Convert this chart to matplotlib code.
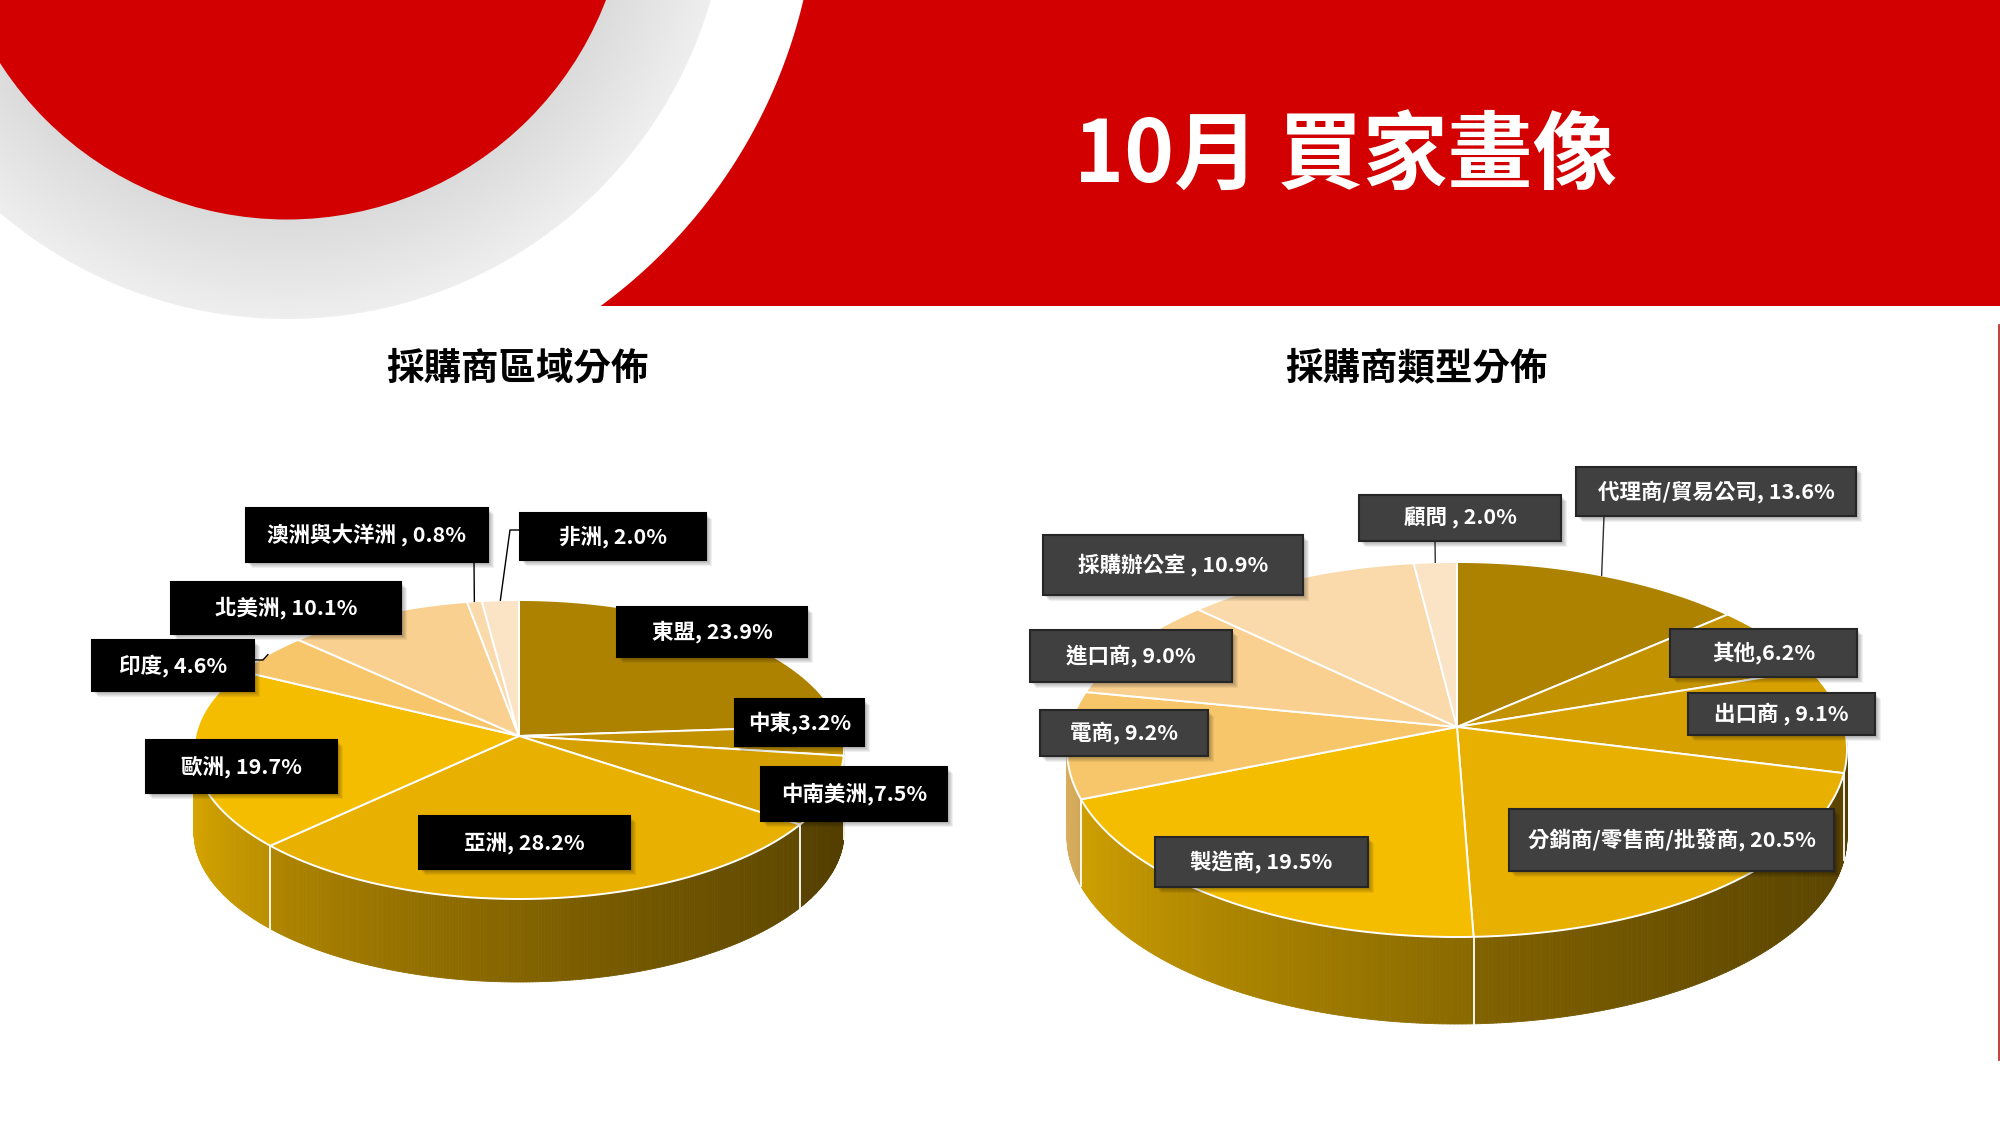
import numpy as np
import matplotlib
matplotlib.use('Agg')
import matplotlib.pyplot as plt
from matplotlib.patches import Polygon, Circle, Rectangle
from matplotlib.collections import PolyCollection
from matplotlib.colors import to_rgb

plt.rcParams['font.family'] = ['Noto Sans CJK TC', 'DejaVu Sans']

# ---- data ----
region_names = ['東盟', '中東', '中南美洲', '亞洲', '歐洲', '印度', '北美洲', '澳洲與大洋洲', '非洲']
region_share = [23.9, 3.2, 7.5, 28.2, 19.7, 4.6, 10.1, 0.8, 2.0]
region_sep = [', ', ',', ',', ', ', ', ', ', ', ', ', ' , ', ', ']

type_names = ['代理商/貿易公司', '其他', '出口商', '分銷商/零售商/批發商', '製造商',
              '電商', '進口商', '採購辦公室', '顧問']
type_share = [13.6, 6.2, 9.1, 20.5, 19.5, 9.2, 9.0, 10.9, 2.0]
type_sep = [', ', ',', ' , ', ', ', ', ', ', ', ', ', ' , ', ' , ']

title = '10月 買家畫像'
left_title = '採購商區域分佈'
right_title = '採購商類型分佈'

# ---- styles / layout (pixel space of a 2000x1125 canvas) ----
slice_colors = ['#AD8200', '#C29200', '#D6A000', '#E8B000', '#F5BD00',
                '#F7C66A', '#F9D08F', '#FAD9AA', '#FBE3C6']
RED = '#D20000'

region_boxes = [(617, 607, 807, 657), (735, 699, 864, 746), (761, 767, 947, 821),
                (419, 816, 630, 869), (146, 740, 337, 793), (92, 640, 254, 691),
                (171, 582, 401, 634), (246, 508, 488, 562), (520, 513, 706, 560)]
type_boxes = [(1576, 467, 1856, 516), (1670, 629, 1857, 677), (1688, 693, 1875, 735),
              (1509, 809, 1834, 871), (1155, 837, 1368, 887), (1040, 710, 1208, 756),
              (1030, 630, 1232, 682), (1043, 535, 1303, 595), (1359, 495, 1561, 541)]
region_leaders = {7: [(474, 562)], 8: [(510, 530), (520, 530)], 5: [(263, 660), (254, 660)]}
type_leaders = {0: [(1604, 516)], 8: [(1435, 541)]}

fig = plt.figure(figsize=(20, 11.25), dpi=100)
ax = fig.add_axes([0, 0, 1, 1])
ax.set_xlim(0, 2000)
ax.set_ylim(1125, 0)
ax.axis('off')

# ---- header graphics ----
ccx, ccy = 287.0, -122.0
r_red, r_gray, r_ban = 341.5, 441.0, 530.6

yy, xx = np.mgrid[0:340, 0:760] + 0.5
rr = np.hypot(xx - ccx, yy - ccy)
t = np.clip((rr - r_red) / (r_gray - r_red), 0, 1)
g = 0.86 + 0.075 * t
rgba = np.zeros((340, 760, 4))
rgba[..., 0] = g
rgba[..., 1] = g
rgba[..., 2] = g
rgba[..., 3] = np.clip(r_gray - rr + 0.5, 0, 1)
ax.imshow(rgba, extent=(0, 760, 340, 0), zorder=1, interpolation='bilinear')
ax.add_patch(Circle((ccx, ccy), r_red, color=RED, zorder=2, lw=0))

ys = np.linspace(0, 306, 120)
xs = ccx + np.sqrt(r_ban ** 2 - (ys - ccy) ** 2)
ban = list(zip(xs, ys)) + [(2000, 306), (2000, 0)]
ax.add_patch(Polygon(ban, closed=True, color=RED, lw=0, zorder=2))
ax.plot([1998.5, 1998.5], [325, 1060], color='#B42020', lw=1.2, zorder=2)

ax.text(1346, 157, title, color='white', fontsize=61, fontweight='bold',
        ha='center', va='center', zorder=3)
ax.text(517, 368, left_title, color='black', fontsize=27, fontweight='bold',
        ha='center', va='center')
ax.text(1416, 368, right_title, color='black', fontsize=27, fontweight='bold',
        ha='center', va='center')


def draw_pie(values, cx, cy, rx, ry_back, ry_front, depth):
    q = ry_front / ry_back
    k = (q - 1) / (q + 1)
    ry0 = ry_back * (1 + k)
    rx0 = rx * np.sqrt(1 - k * k)

    def proj(deg):
        a = np.radians(deg)
        X, Y = np.sin(a), np.cos(a)
        d = 1 + k * Y
        return cx + rx0 * X / d, cy - ry0 * Y / d

    vals = np.asarray(values, float)
    bounds = np.concatenate([[0], np.cumsum(vals) / vals.sum() * 360])

    # side walls, shaded left -> right
    quads, cols = [], []
    for i in range(len(vals)):
        lo, hi = max(bounds[i], 90), min(bounds[i + 1], 270)
        if hi <= lo:
            continue
        base = np.array(to_rgb(slice_colors[i]))
        ts = np.linspace(lo, hi, max(2, int((hi - lo) / 0.5) + 2))
        px, py = proj(ts)
        for j in range(len(ts) - 1):
            quads.append([(px[j], py[j]), (px[j + 1], py[j + 1]),
                          (px[j + 1], py[j + 1] + depth), (px[j], py[j] + depth)])
            u = np.clip(((px[j] + px[j + 1]) / 2 - (cx - rx)) / (2 * rx), 0, 1)
            f = 0.88 - 0.49 * u ** 0.65
            cols.append(tuple(base * f))
    ax.add_collection(PolyCollection(quads, facecolors=cols, edgecolors=cols,
                                     linewidths=0.6, zorder=3))
    for b in bounds[1:-1]:
        if 90 < b < 270:
            bx, by = proj(b)
            ax.plot([bx, bx], [by, by + depth], color='white', lw=1.3, zorder=3.5)

    # top faces
    for i in range(len(vals)):
        ts = np.linspace(bounds[i], bounds[i + 1], 120)
        px, py = proj(ts)
        pts = [(cx, cy)] + list(zip(px, py))
        ax.add_patch(Polygon(pts, closed=True, facecolor=slice_colors[i],
                             edgecolor='white', lw=1.4, joinstyle='round', zorder=4))
    mids = (bounds[:-1] + bounds[1:]) / 2
    return [proj(m) for m in mids]


def draw_labels(names, shares, seps, boxes, leaders, anchors, face, edge, lcol):
    for i, (n, v, s) in enumerate(zip(names, shares, seps)):
        if i in leaders:
            pts = [anchors[i]] + leaders[i]
            ax.plot([p[0] for p in pts], [p[1] for p in pts], color=lcol, lw=1.0, zorder=4.5)
        x0, y0, x1, y1 = boxes[i]
        for off in (2, 3, 4, 5, 6):
            ax.add_patch(Rectangle((x0 + off, y0 + off), x1 - x0, y1 - y0,
                                   facecolor='black', alpha=0.06, lw=0, zorder=5))
        ax.add_patch(Rectangle((x0, y0), x1 - x0, y1 - y0, facecolor=face,
                               edgecolor=edge, lw=1.5, zorder=6))
        ax.text((x0 + x1) / 2, (y0 + y1) / 2, f'{n}{s}{v:.1f}%', color='white',
                fontsize=15.5, fontweight='bold', ha='center', va='center', zorder=7)


left_anchors = draw_pie(region_share, 519, 736, 325, 136, 163, 83)
right_anchors = draw_pie(type_share, 1457, 727, 390, 165, 210, 87)

draw_labels(region_names, region_share, region_sep, region_boxes, region_leaders,
            left_anchors, 'black', 'black', 'black')
draw_labels(type_names, type_share, type_sep, type_boxes, type_leaders,
            right_anchors, '#404040', '#262626', '#303030')

fig.savefig('out.png', dpi=100, facecolor='white')
